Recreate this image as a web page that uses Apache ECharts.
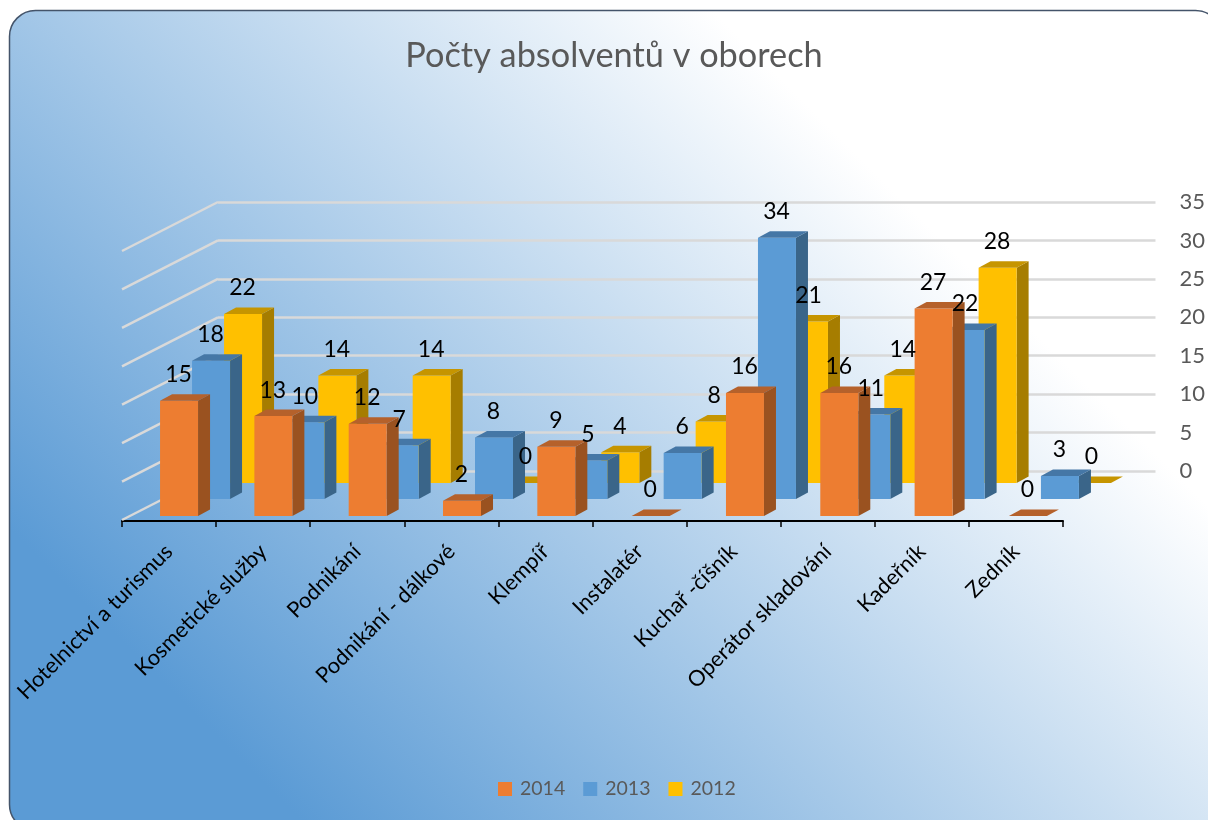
<!DOCTYPE html>
<html>
<head>
<meta charset="utf-8">
<style>html,body{margin:0;padding:0;background:#fff}#c{width:1208px;height:820px}</style>
<script src="https://cdn.jsdelivr.net/npm/echarts@6/dist/echarts.min.js"></script>
</head>
<body>
<div id="c"></div>
<script>
const categories = ['Hotelnictví a turismus','Kosmetické služby','Podnikání','Podnikání - dálkové','Klempíř','Instalatér','Kuchař -číšník','Operátor skladování','Kadeřník','Zedník'];
const values2014 = [15,13,12,2,9,0,16,16,27,0];
const values2013 = [18,10,7,8,5,6,34,11,22,3];
const values2012 = [22,14,14,0,4,8,21,14,28,0];
const wallTicks = [0,5,10,15,20,25,30,35];

const FONT = 'Lato, "Open Sans", sans-serif';
const BAR_W = 38, SIDE_X = 12, SIDE_Y = 6.5, SPREAD = 0.22;
// row: offsets of the front face of each depth row from the category centre on the front axis
const rows = {
  '2014': {dx:-9, dy:-5,  front:'#ed7d31', top:'#b5612b', side:'#9a5220', values:values2014},
  '2013': {dx:23, dy:-22, front:'#5b9bd5', top:'#4577a6', side:'#3a6589', values:values2013},
  '2012': {dx:55, dy:-38, front:'#ffc000', top:'#c69500', side:'#a67d00', values:values2012}
};

function barSeries(name, z){
  const r = rows[name];
  return {
    name, type:'custom', xAxisIndex:0, yAxisIndex:0, z,
    itemStyle:{color:r.front},
    data:r.values.map((v,i)=>[i,v]),
    encode:{x:0,y:1},
    renderItem(params, api){
      const top = api.coord([api.value(0), api.value(1)]);
      const base = api.coord([api.value(0), 0]);
      const x0 = top[0]+r.dx+api.value(0)*SPREAD, x1 = x0+BAR_W;
      const yT = top[1]+r.dy, yB = base[1]+r.dy;
      const children = [];
      if (yB-yT > 0.5) {
        children.push({type:'polygon', shape:{points:[[x1,yT],[x1+SIDE_X,yT-SIDE_Y],[x1+SIDE_X,yB-SIDE_Y],[x1,yB]]}, style:{fill:r.side}});
        children.push({type:'rect', shape:{x:x0,y:yT,width:BAR_W,height:yB-yT}, style:{fill:r.front}});
      }
      children.push({type:'polygon', shape:{points:[[x0,yT],[x1,yT],[x1+SIDE_X,yT-SIDE_Y],[x0+SIDE_X,yT-SIDE_Y]]}, style:{fill:r.top}});
      return {type:'group', children};
    }
  };
}

function labelSeries(name){
  const r = rows[name];
  return {
    name:'labels'+name, type:'custom', xAxisIndex:0, yAxisIndex:0, z:10, silent:true,
    data:r.values.map((v,i)=>[i,v]),
    encode:{x:0,y:1},
    renderItem(params, api){
      const top = api.coord([api.value(0), api.value(1)]);
      return {type:'text', style:{text:String(api.value(1)), x:top[0]+r.dx+api.value(0)*SPREAD+BAR_W/2-0.5, y:top[1]+r.dy-26,
        align:'center', verticalAlign:'middle', fill:'#000', font:'23px '+FONT}};
    }
  };
}

const wallSeries = {
  type:'custom', name:'wall', xAxisIndex:1, yAxisIndex:1, z:1, silent:true,
  data:wallTicks.map(v=>[0,v]),
  encode:{x:0,y:1},
  renderItem(params, api){
    const p = api.coord([0, api.value(1)]);
    return {type:'line', shape:{x1:p[0],y1:p[1],x2:p[0]-96,y2:p[1]+49}, style:{stroke:'#d9d9d9',lineWidth:2.5}};
  }
};

const chart = echarts.init(document.getElementById('c'), null, {renderer:'canvas'});
chart.setOption({
  animation:false,
  backgroundColor:'#fff',
  graphic:[{
    type:'rect', z:-10, silent:true,
    shape:{x:9.5,y:10.5,width:1212,height:820,r:26},
    style:{
      stroke:'#44546a', lineWidth:1.5,
      fill:{type:'linear', global:true, x:0,y:518,x2:610,y2:-92, colorStops:[
        {offset:0,color:'#5b9bd5'},{offset:1,color:'#ffffff'}]}
    }
  }],
  title:{text:'Počty absolventů v oborech', left:609, top:34, textAlign:'center',
    textStyle:{fontFamily:FONT,fontSize:34.3,fontWeight:'normal',color:'#595959'}},
  legend:{
    data:['2014','2013','2012'], left:498, top:779, padding:0, icon:'rect', itemWidth:14, itemHeight:14, itemGap:18,
    textStyle:{fontFamily:FONT,fontSize:19.5,color:'#595959',padding:[0,0,0,3]}
  },
  grid:[
    {left:122, right:1208-1063, top:252, height:269},
    {left:218, right:1208-1160, top:202, height:269}
  ],
  xAxis:[
    {type:'category', gridIndex:0, data:categories, position:'bottom',
      axisLine:{lineStyle:{color:'#000',width:2}}, axisTick:{show:true,length:6,lineStyle:{color:'#000',width:1.5}},
      axisLabel:{rotate:45, interval:0, margin:27, color:'#000', fontFamily:FONT, fontSize:21.8}},
    {type:'value', gridIndex:1, min:0, max:1, show:false}
  ],
  yAxis:[
    {type:'value', gridIndex:0, min:0, max:35, show:false},
    {type:'value', gridIndex:1, min:0, max:35, interval:5, position:'right',
      axisLine:{show:false}, axisTick:{show:false},
      splitLine:{show:true,lineStyle:{color:'#d9d9d9',width:2.5}},
      axisLabel:{margin:24,color:'#595959',fontFamily:FONT,fontSize:22,padding:[3,0,0,0]}}
  ],
  series:[wallSeries, barSeries('2012',2), barSeries('2013',3), barSeries('2014',4),
    labelSeries('2012'), labelSeries('2013'), labelSeries('2014')]
});
</script>
</body>
</html>
